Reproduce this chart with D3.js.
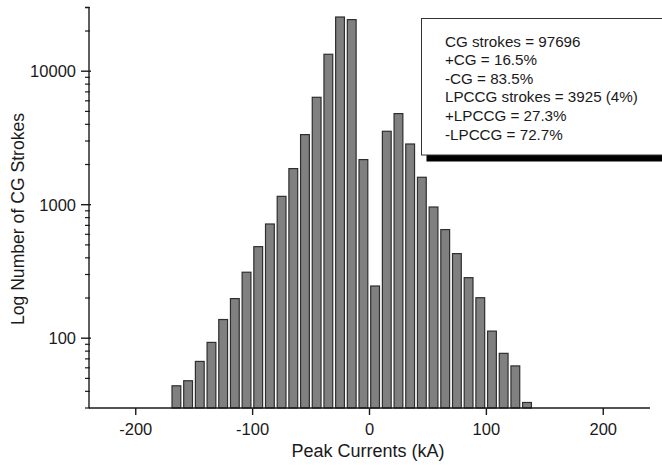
<!DOCTYPE html>
<html>
<head>
<meta charset="utf-8">
<script src="https://cdn.jsdelivr.net/npm/d3@7"></script>
<style>
  html, body { margin: 0; padding: 0; background: #fff; }
  svg { display: block; font-family: "Liberation Sans", Arial, sans-serif; }
</style>
</head>
<body>
<svg id="chart" width="662" height="465"></svg>
<script>
// ---- data ----
const binStarts = [-170,-160,-150,-140,-130,-120,-110,-100,-90,-80,-70,-60,-50,-40,-30,-20,-10,0,10,20,30,40,50,60,70,80,90,100,110,120,130];
const counts    = [44,48,67,93,138,198,312,485,717,1155,1864,3350,6376,13390,25460,24340,2177,246,3548,4813,2849,1605,961,651,430,284,201,113,77,62,33];
const binWidth = 10;
const xTicks = [-200,-100,0,100,200];
const yTicks = [100,1000,10000];
const legendLines = [
  "CG strokes = 97696",
  "+CG = 16.5%",
  "-CG = 83.5%",
  "LPCCG strokes = 3925 (4%)",
  "+LPCCG = 27.3%",
  "-LPCCG = 72.7%"
];
const xLabel = "Peak Currents (kA)";
const yLabel = "Log Number of CG Strokes";

(function () {
// ---- layout ----
const svg = d3.select("#chart");
const pLeft = 89, pRight = 650, pTop = 7.5, pBottom = 408;
const x = d3.scaleLinear().domain([-240, 240]).range([pLeft, pRight]);
const y = d3.scaleLog().domain([30, 30000]).range([pBottom, pTop]);
const ink = "#1a1a1a";

// bars
const px = x(binWidth) - x(0);
svg.append("g").selectAll("rect").data(binStarts).join("rect")
  .attr("x", (d) => x(d) + 1.2)
  .attr("width", px - 2.9)
  .attr("y", (d, i) => y(counts[i]))
  .attr("height", (d, i) => pBottom - y(counts[i]))
  .attr("fill", "#808080")
  .attr("stroke", "#2e2e2e")
  .attr("stroke-width", 1.2);

// y axis
const yAxisG = svg.append("g");
yAxisG.append("line").attr("x1", pLeft).attr("x2", pLeft).attr("y1", pTop).attr("y2", pBottom)
  .attr("stroke", ink).attr("stroke-width", 1.4);
const minor = [];
[10, 100, 1000, 10000].forEach(dec => { for (let k = 2; k <= 9; k++) { const v = dec * k; if (v >= 30 && v <= 30000) minor.push(v); } });
yAxisG.selectAll(".mn").data(minor).join("line")
  .attr("x1", pLeft - 4).attr("x2", pLeft + 1).attr("y1", d => y(d)).attr("y2", d => y(d))
  .attr("stroke", ink).attr("stroke-width", 1.2);
yAxisG.selectAll(".mj").data(yTicks).join("line")
  .attr("x1", pLeft - 8).attr("x2", pLeft + 2).attr("y1", d => y(d)).attr("y2", d => y(d))
  .attr("stroke", ink).attr("stroke-width", 1.4);
yAxisG.append("line").attr("x1", pLeft - 4).attr("x2", pLeft).attr("y1", pTop).attr("y2", pTop)
  .attr("stroke", ink).attr("stroke-width", 1.4);
yAxisG.selectAll("text").data(yTicks).join("text")
  .attr("x", pLeft - 13).attr("y", d => y(d) + 6)
  .attr("text-anchor", "end").attr("font-size", 16.5).attr("fill", ink)
  .text(d => d3.format("d")(d));

// x axis
const xAxisG = svg.append("g");
xAxisG.append("line").attr("x1", pLeft).attr("x2", pRight).attr("y1", pBottom).attr("y2", pBottom)
  .attr("stroke", ink).attr("stroke-width", 1.4);
xAxisG.selectAll(".tk").data(xTicks).join("line")
  .attr("x1", d => x(d)).attr("x2", d => x(d)).attr("y1", pBottom).attr("y2", pBottom + 7)
  .attr("stroke", ink).attr("stroke-width", 1.4);
xAxisG.selectAll("text").data(xTicks).join("text")
  .attr("x", d => x(d)).attr("y", 435)
  .attr("text-anchor", "middle").attr("font-size", 16.5).attr("fill", ink)
  .text(d => d);

// axis labels
svg.append("text").attr("x", 368).attr("y", 457).attr("text-anchor", "middle")
  .attr("font-size", 18).attr("fill", ink).text(xLabel);
svg.append("text").attr("transform", "translate(24,219) rotate(-90)").attr("text-anchor", "middle")
  .attr("font-size", 17.6).attr("fill", ink).text(yLabel);

// legend box
const lg = svg.append("g");
lg.append("rect").attr("x", 426.5).attr("y", 155).attr("width", 260).attr("height", 6.5).attr("fill", "#000");
lg.append("rect").attr("x", 421.5).attr("y", 18.5).attr("width", 260).attr("height", 136.5)
  .attr("fill", "#fff").attr("stroke", "#333").attr("stroke-width", 1);
lg.selectAll("text").data(legendLines).join("text")
  .attr("x", 445).attr("y", (d, i) => 46.5 + i * 18.6)
  .attr("font-size", 15.2).attr("fill", ink)
  .text(d => d);
})();
</script>
</body>
</html>
